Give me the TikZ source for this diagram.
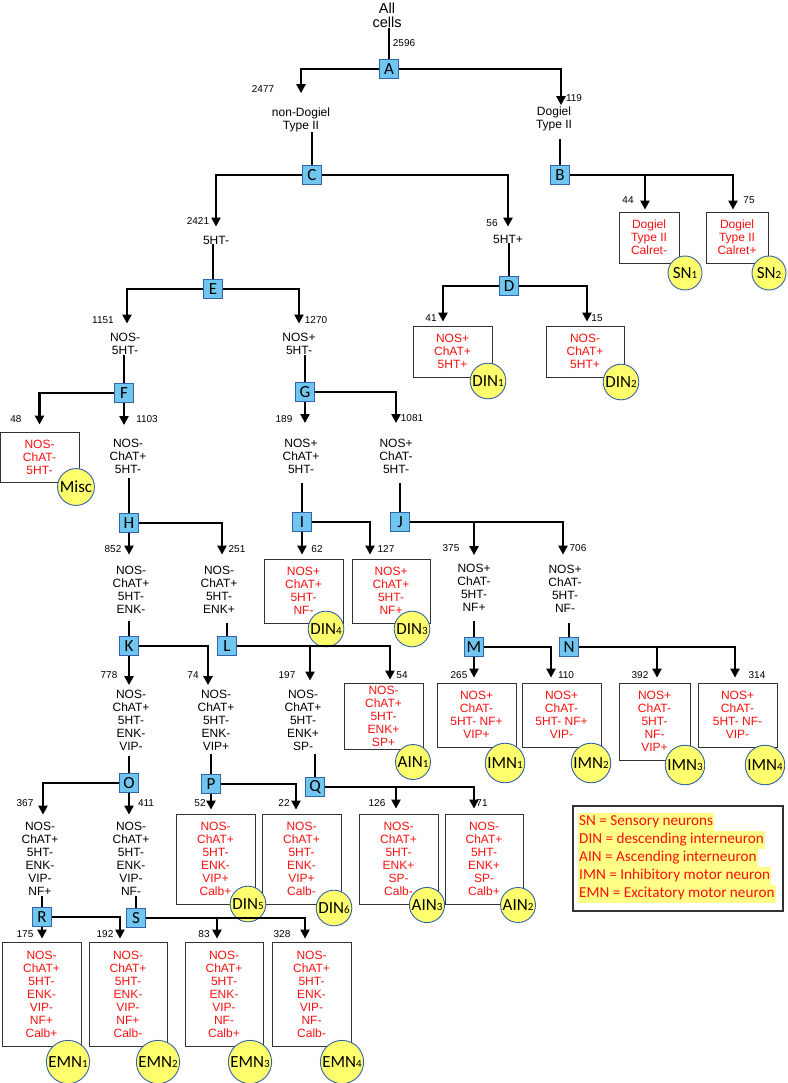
\documentclass[tikz,border=0pt]{standalone}
\usepackage{fontspec}
\setmainfont{Liberation Sans}
\newfontfamily\calib{Carlito}
\usetikzlibrary{arrows.meta, positioning, calc}

\definecolor{gateblue}{RGB}{112,198,238}
\definecolor{edgeblue}{RGB}{52,98,168}
\definecolor{idyellow}{RGB}{255,255,110}
\definecolor{hilite}{RGB}{255,255,135}
\definecolor{marker}{RGB}{250,16,16}

\newcommand{\sbx}[1]{{\fontsize{11}{11}\selectfont #1}}

\begin{document}
\begin{tikzpicture}[x=1pt, y=-1pt,
  branch/.style = {rectangle, draw=edgeblue, fill=gateblue, line width=0.9pt,
                   minimum size=19pt, inner sep=0pt,
                   font=\calib\fontsize{17}{17}\selectfont},
  txt/.style    = {align=center, inner sep=0pt, font=\fontsize{12}{13}\selectfont},
  cellbox/.style= {rectangle, draw=black!80, fill=white, line width=0.8pt,
                   text=marker, align=center, inner sep=0pt,
                   minimum width=79pt, font=\fontsize{12}{13}\selectfont},
  cellid/.style = {circle, draw=edgeblue, fill=idyellow, line width=0.9pt,
                   minimum size=34pt, inner sep=1pt,
                   font=\calib\fontsize{17}{17}\selectfont},
  cnt/.style    = {inner sep=0pt, font=\fontsize{10}{10}\selectfont},
  stem/.style   = {line width=2.2pt},
  arr/.style    = {-{Triangle[length=9pt,width=9pt]}, line width=2.2pt, shorten >=3pt},
  legtxt/.style = {anchor=west, fill=hilite, text=marker, inner xsep=1pt, inner ysep=1pt,
                   text height=11pt, text depth=5pt,
                   font=\calib\fontsize{15.2}{16}\selectfont},
]
\useasboundingbox (0,0) rectangle (787,1083);

%% ── Root ─────────────────────────────────────────────────────────────────
\node[txt, font=\fontsize{14.5}{14}\selectfont] (all) at (387,15) {All\\cells};
\node[branch] (A) at (389,69) {A};
\node[txt] (nondog) at (301,119.5) {non-Dogiel\\Type II};
\node[txt] (dog)    at (554,118.5) {Dogiel\\Type II};

%% ── Dogiel branch ────────────────────────────────────────────────────────
\node[branch] (B) at (560,175) {B};
\node[cellbox, minimum width=60pt, minimum height=51pt] (sn1) at (649,237.5) {Dogiel\\Type II\\Calret-};
\node[cellbox, minimum width=62pt, minimum height=51pt] (sn2) at (737,237.5) {Dogiel\\Type II\\Calret+};
\node[cellid] (sn1c) at (685,273) {SN\sbx{1}};
\node[cellid] (sn2c) at (769,273) {SN\sbx{2}};

%% ── 5HT split ────────────────────────────────────────────────────────────
\node[branch] (C) at (312,175) {C};
\node[txt] (ht5m) at (216,240) {5HT-};
\node[txt] (ht5p) at (508,239) {5HT+};
\node[branch] (D) at (509,286) {D};
\node[cellbox, minimum height=51pt] (din1) at (452.5,351.5) {NOS+\\ChAT+\\5HT+};
\node[cellbox, minimum width=78pt, minimum height=51pt] (din2) at (585,351.5) {NOS-\\ChAT+\\5HT+};
\node[cellid] (din1c) at (488,381) {DIN\sbx{1}};
\node[cellid] (din2c) at (621,382) {DIN\sbx{2}};

%% ── NOS split ────────────────────────────────────────────────────────────
\node[branch] (E) at (213,289) {E};
\node[txt] (nosm5) at (125,344) {NOS-\\5HT-};
\node[txt] (nosp5) at (299,344) {NOS+\\5HT-};
\node[branch] (F) at (124,393) {F};
\node[branch] (G) at (305,392) {G};
\node[cellbox, minimum height=50pt] (misc) at (39.5,457) {NOS-\\ChAT-\\5HT-};
\node[cellid] (miscc) at (76,487) {Misc};
\node[txt] (nchp) at (128,456) {NOS-\\ChAT+\\5HT-};
\node[txt] (npcp) at (301,456) {NOS+\\ChAT+\\5HT-};
\node[txt] (npcm) at (396,456) {NOS+\\ChAT-\\5HT-};

%% ── H, I, J ──────────────────────────────────────────────────────────────
\node[branch] (H) at (129,523) {H};
\node[branch] (I) at (302,522) {I};
\node[branch] (J) at (400,522) {J};
\node[txt] (enkm) at (131,590) {NOS-\\ChAT+\\5HT-\\ENK-};
\node[txt] (enkp) at (219,590) {NOS-\\ChAT+\\5HT-\\ENK+};
\node[cellbox, minimum height=64pt] (din4) at (303.5,591) {NOS+\\ChAT+\\5HT-\\NF-};
\node[cellbox, minimum width=78pt, minimum height=64pt] (din3) at (391,591) {NOS+\\ChAT+\\5HT-\\NF+};
\node[cellid] (din4c) at (326,629) {DIN\sbx{4}};
\node[cellid] (din3c) at (412,629) {DIN\sbx{3}};
\node[txt] (nfp) at (474,587.5) {NOS+\\ChAT-\\5HT-\\NF+};
\node[txt] (nfm) at (565,589) {NOS+\\ChAT-\\5HT-\\NF-};

%% ── K, L, M, N ───────────────────────────────────────────────────────────
\node[branch] (K) at (129,646) {K};
\node[branch] (L) at (227,646) {L};
\node[branch] (M) at (474,647) {M};
\node[branch] (N) at (569,647) {N};
\node[txt] (vipm) at (131,720.5) {NOS-\\ChAT+\\5HT-\\ENK-\\VIP-};
\node[txt] (vipp) at (216,720.5) {NOS-\\ChAT+\\5HT-\\ENK-\\VIP+};
\node[txt] (spm)  at (303,720.5) {NOS-\\ChAT+\\5HT-\\ENK+\\SP-};
\node[cellbox, minimum height=66pt] (ain1) at (383.5,716) {NOS-\\ChAT+\\5HT-\\ENK+\\SP+};
\node[cellbox, minimum height=64pt] (imn1) at (476.5,715) {NOS+\\ChAT-\\5HT- NF+\\VIP+};
\node[cellbox, minimum height=64pt] (imn2) at (561.5,715) {NOS+\\ChAT-\\5HT- NF+\\VIP-};
\node[cellbox, minimum width=71pt, minimum height=77pt] (imn3) at (654.5,721.5) {NOS+\\ChAT-\\5HT-\\NF-\\VIP+};
\node[cellbox, minimum height=64pt] (imn4) at (737.5,715) {NOS+\\ChAT-\\5HT- NF-\\VIP-};
\node[cellid] (ain1c) at (413,762) {AIN\sbx{1}};
\node[cellid] (imn1c) at (505,763) {IMN\sbx{1}};
\node[cellid] (imn2c) at (591,763) {IMN\sbx{2}};
\node[cellid] (imn3c) at (685,765) {IMN\sbx{3}};
\node[cellid] (imn4c) at (765,765) {IMN\sbx{4}};

%% ── O, P, Q ──────────────────────────────────────────────────────────────
\node[branch] (O) at (129,783) {O};
\node[branch] (P) at (211,784) {P};
\node[branch] (Q) at (315,787) {Q};
\node[txt] (nfpE) at (40,859)  {NOS-\\ChAT+\\5HT-\\ENK-\\VIP-\\NF+};
\node[txt] (nfmE) at (131,859) {NOS-\\ChAT+\\5HT-\\ENK-\\VIP-\\NF-};
\node[cellbox, minimum height=90pt] (din5) at (215.5,859) {NOS-\\ChAT+\\5HT-\\ENK-\\VIP+\\Calb+};
\node[cellbox, minimum height=90pt] (din6) at (301.5,859) {NOS-\\ChAT+\\5HT-\\ENK-\\VIP+\\Calb-};
\node[cellbox, minimum height=90pt] (ain3) at (398.5,859) {NOS-\\ChAT+\\5HT-\\ENK+\\SP-\\Calb-};
\node[cellbox, minimum width=78pt, minimum height=90pt] (ain2) at (484,859) {NOS-\\ChAT+\\5HT-\\ENK+\\SP-\\Calb+};
\node[cellid] (din5c) at (248,904) {DIN\sbx{5}};
\node[cellid] (din6c) at (334,908) {DIN\sbx{6}};
\node[cellid] (ain3c) at (427,905) {AIN\sbx{3}};
\node[cellid] (ain2c) at (518,905) {AIN\sbx{2}};

%% ── R, S: motor neurons ──────────────────────────────────────────────────
\node[branch] (R) at (42,917) {R};
\node[branch] (S) at (136,918) {S};
\node[cellbox, minimum height=104pt] (emn1) at (41.5,994) {NOS-\\ChAT+\\5HT-\\ENK-\\VIP-\\NF+\\Calb+};
\node[cellbox, minimum width=78pt, minimum height=104pt] (emn2) at (128,994) {NOS-\\ChAT+\\5HT-\\ENK-\\VIP-\\NF+\\Calb-};
\node[cellbox, minimum width=78pt, minimum height=104pt] (emn3) at (224,994) {NOS-\\ChAT+\\5HT-\\ENK-\\VIP-\\NF-\\Calb+};
\node[cellbox, minimum height=104pt] (emn4) at (311.5,994) {NOS-\\ChAT+\\5HT-\\ENK-\\VIP-\\NF-\\Calb-};
\node[cellid] (emn1c) at (68,1062)  {EMN\sbx{1}};
\node[cellid] (emn2c) at (158,1062) {EMN\sbx{2}};
\node[cellid] (emn3c) at (250,1062) {EMN\sbx{3}};
\node[cellid] (emn4c) at (342,1062) {EMN\sbx{4}};

%% ── Stems ────────────────────────────────────────────────────────────────
\draw[stem] (A |- all.south) -- (A);
\draw[stem] (C |- nondog.south) -- (C);
\draw[stem, shorten <=8pt] (B |- dog.south) -- (B);
\draw[stem] (E |- ht5m.south) -- (E);
\draw[stem] (D |- ht5p.south) -- (D);
\draw[stem] (F |- nosm5.south) -- (F);
\draw[stem] (G |- nosp5.south) -- (G);
\draw[stem, shorten <=5pt] (H |- nchp.south) -- (H);
\draw[stem, shorten <=10pt] (I |- npcp.south) -- (I);
\draw[stem, shorten <=10pt] (J |- npcm.south) -- (J);
\draw[stem, shorten <=7pt] (K |- enkm.south) -- (K);
\draw[stem, shorten <=9pt] (L |- enkp.south) -- (L);
\draw[stem, shorten <=10pt] (M |- nfp.south) -- (M);
\draw[stem, shorten <=10pt] (N |- nfm.south) -- (N);
\draw[stem, shorten <=5pt] (O |- vipm.south) -- (O);
\draw[stem, shorten <=3pt] (P |- vipp.south) -- (P);
\draw[stem, shorten <=3pt] (Q |- spm.south) -- (Q);
\draw[stem] (R |- nfpE.south) -- (R);
\draw[stem] (S |- nfmE.south) -- (S);

%% ── Arrows ───────────────────────────────────────────────────────────────
\draw[arr, shorten >=14pt] (A) -| (nondog.north);
\draw[arr, shorten >=1pt]  (A) -| ([xshift=7pt]dog.north);
\draw[arr, shorten >=2pt]  (B) -| ([xshift=-4pt]sn1.north);
\draw[arr, shorten >=2pt]  (B) -| ([xshift=-4pt]sn2.north);
\draw[arr, shorten >=9pt]  (C) -| (ht5m.north);
\draw[arr, shorten >=8pt]  (C) -| (ht5p.north);
\draw[arr, shorten >=4pt]  (D) -| ([xshift=-9.5pt]din1.north);
\draw[arr, shorten >=4pt]  (D) -| ([xshift=2pt]din2.north);
\draw[arr, shorten >=9.5pt] (E) -| ([xshift=2pt]nosm5.north);
\draw[arr, shorten >=9.5pt] (E) -| (nosp5.north);
\draw[arr, shorten >=7pt]  (F) -| (misc.north);
\draw[arr, shorten >=13.5pt] (F) -- (F |- nchp.north);
\draw[arr, shorten >=15.5pt] (G) -- (G |- npcp.north);
\draw[arr, shorten >=15.5pt] (G) -| (npcm.north);
\draw[arr, shorten >=11.5pt] (H) -- (H |- enkm.north);
\draw[arr, shorten >=11.5pt] (H) -| ([xshift=3pt]enkp.north);
\draw[arr, shorten >=4pt]  (I) -- (I |- din4.north);
\draw[arr, shorten >=4pt]  (I) -| ([xshift=-21pt]din3.north);
\draw[arr, shorten >=8.5pt] (J) -| (nfp.north);
\draw[arr, shorten >=10.5pt] (J) -| ([xshift=-2pt]nfm.north);
\draw[arr, shorten >=5pt]  (K) -- (K |- vipm.north);
\draw[arr, shorten >=5pt]  (K) -| ([xshift=-8pt]vipp.north);
\draw[arr, shorten >=9.5pt] (L) -| ([xshift=7pt]spm.north);
\draw[arr, shorten >=3pt]  (L) -| ([xshift=6.5pt]ain1.north);
\draw[arr, shorten >=5pt]  (M) -- (M |- imn1.north);
\draw[arr, shorten >=5pt]  (M) -| ([xshift=-10.5pt]imn2.north);
\draw[arr, shorten >=5pt]  (N) -| ([xshift=2.5pt]imn3.north);
\draw[arr, shorten >=5pt]  (N) -| ([xshift=-2.5pt]imn4.north);
\draw[arr, shorten >=7.5pt] (O) -| ([xshift=3pt]nfpE.north);
\draw[arr, shorten >=7.5pt] (O) -- (O |- nfmE.north);
\draw[arr, shorten >=4pt]  (P) -- (P |- din5.north);
\draw[arr, shorten >=4pt]  (P) -| ([xshift=-5.5pt]din6.north);
\draw[arr, shorten >=5pt]  (Q) -| ([xshift=-2.5pt]ain3.north);
\draw[arr, shorten >=5pt]  (Q) -| ([xshift=-10pt]ain2.north);
\draw[arr]                 (R) -- (R |- emn1.north);
\draw[arr]                 (R) -| ([xshift=-8pt]emn2.north);
\draw[arr]                 (S) -| ([xshift=-7pt]emn3.north);
\draw[arr]                 (S) -| ([xshift=-6.5pt]emn4.north);

%% ── Counts ───────────────────────────────────────────────────────────────
\node[cnt] (n2596) at (404,43)  {2596};
\node[cnt] (n2477) at (263,89)  {2477};
\node[cnt] (n119)  at (574,98)  {119};
\node[cnt] (n44)   at (628,200) {44};
\node[cnt] (n75)   at (749,200) {75};
\node[cnt] (n2421) at (198,221) {2421};
\node[cnt] (n56)   at (492,223) {56};
\node[cnt] (n41)   at (431,318) {41};
\node[cnt] (n15)   at (597,318) {15};
\node[cnt] (n1151) at (103,320) {1151};
\node[cnt] (n1270) at (316,320) {1270};
\node[cnt] (n48)   at (16,419)  {48};
\node[cnt] (n1103) at (147,419) {1103};
\node[cnt] (n189)  at (284,419) {189};
\node[cnt] (n1081) at (412,418) {1081};
\node[cnt] (n852)  at (113,549) {852};
\node[cnt] (n251)  at (237,549) {251};
\node[cnt] (n62)   at (317,549) {62};
\node[cnt] (n127)  at (386,549) {127};
\node[cnt] (n375)  at (451,548) {375};
\node[cnt] (n706)  at (578,548) {706};
\node[cnt] (n778)  at (109,675) {778};
\node[cnt] (n74)   at (193,675) {74};
\node[cnt] (n197)  at (287,675) {197};
\node[cnt] (n54)   at (402,675) {54};
\node[cnt] (n265)  at (459,675) {265};
\node[cnt] (n110)  at (566,675) {110};
\node[cnt] (n392)  at (640,675) {392};
\node[cnt] (n314)  at (757,675) {314};
\node[cnt] (n367)  at (25,803)  {367};
\node[cnt] (n411)  at (146,803) {411};
\node[cnt] (n52)   at (200,803) {52};
\node[cnt] (n22)   at (284,803) {22};
\node[cnt] (n126)  at (377,803) {126};
\node[cnt] (n71)   at (482,803) {71};
\node[cnt] (n175)  at (25,934)  {175};
\node[cnt] (n192)  at (105,934) {192};
\node[cnt] (n83)   at (204,934) {83};
\node[cnt] (n328)  at (282,934) {328};

%% ── Legend ───────────────────────────────────────────────────────────────
\node[draw=black!80, line width=1.6pt, minimum width=210pt, minimum height=105pt,
      inner sep=0pt] (legend) at (678,858.5) {};
\node[legtxt] (leg1) at (578,822) {SN = Sensory neurons};
\node[legtxt] (leg2) at (578,840) {DIN = descending interneuron};
\node[legtxt] (leg3) at (578,858) {AIN = Ascending interneuron};
\node[legtxt] (leg4) at (578,876) {IMN = Inhibitory motor neuron};
\node[legtxt] (leg5) at (578,894) {EMN = Excitatory motor neuron};

\end{tikzpicture}
\end{document}
